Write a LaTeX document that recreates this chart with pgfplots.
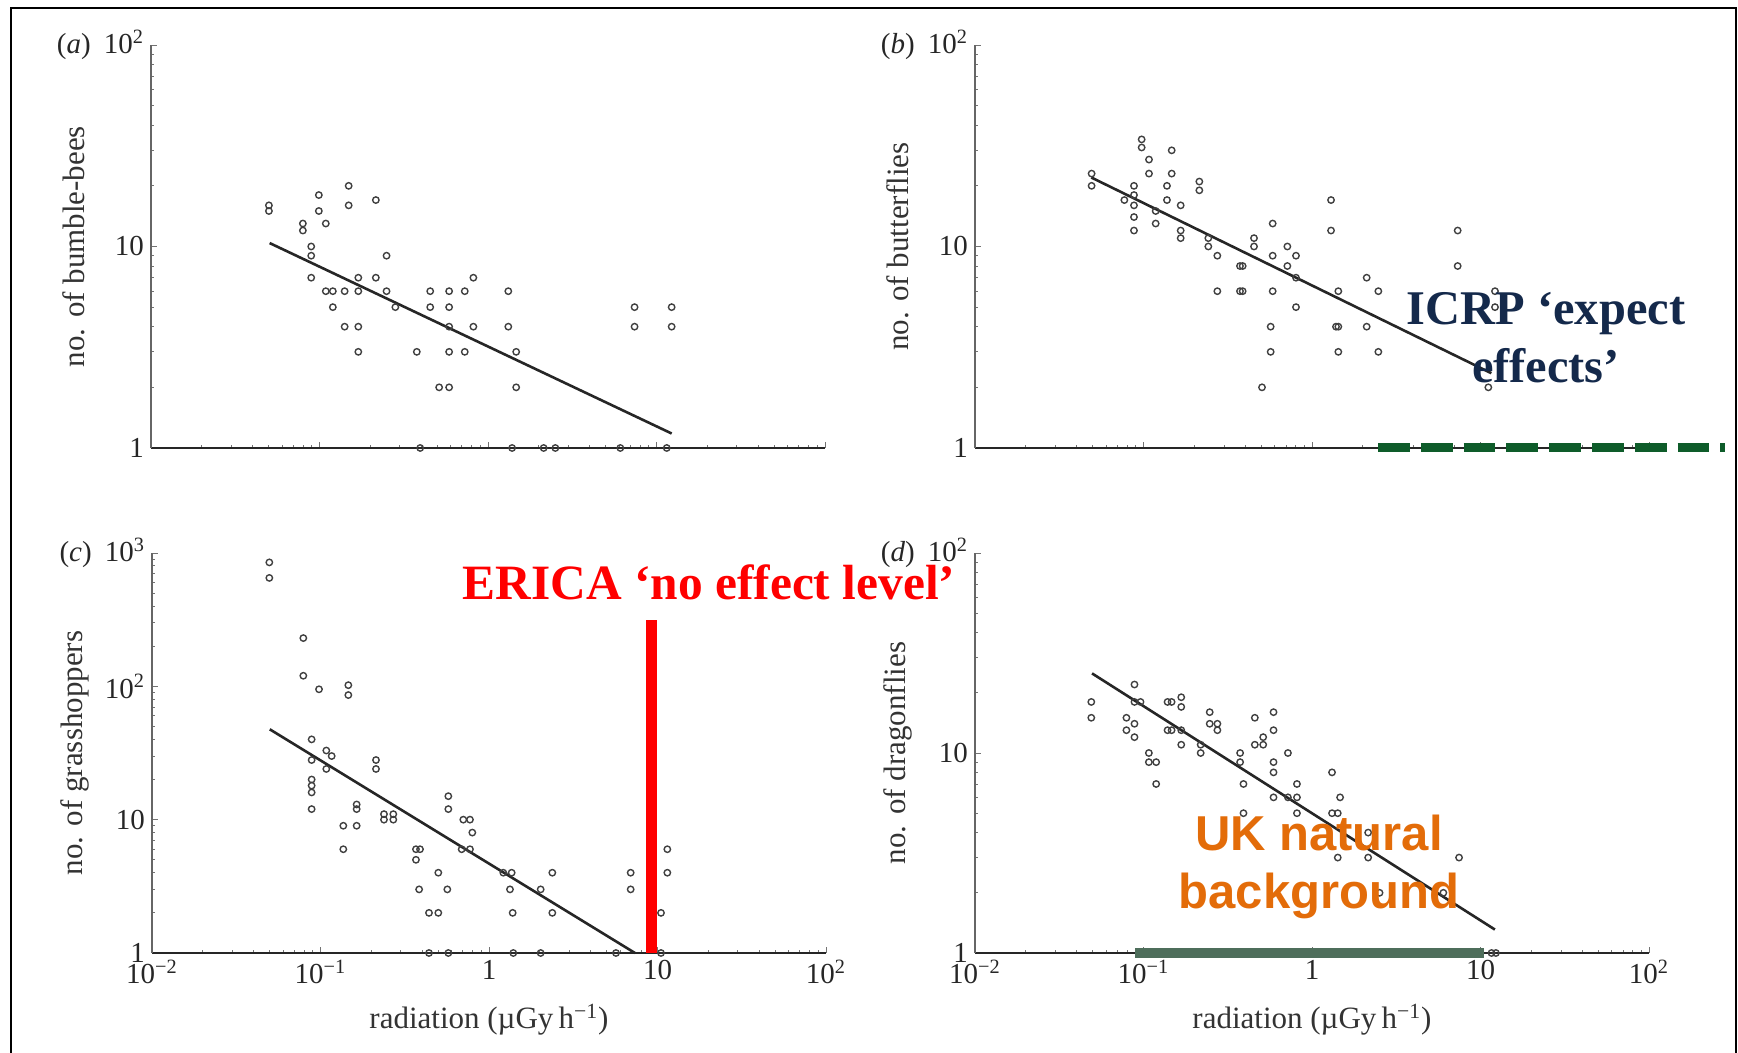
\documentclass[border=0pt]{standalone}
\usepackage{pgfplots}
\pgfplotsset{compat=1.18}
\usepackage{fontspec}
\setmainfont{Liberation Serif}
\newfontfamily\arialfont{Liberation Sans}
\definecolor{icrpgreen}{HTML}{0E5C2A}
\definecolor{icrpnavy}{HTML}{14294B}
\definecolor{ukorange}{HTML}{E36C09}
\definecolor{ukbar}{HTML}{4E6E5B}

\pgfplotsset{
  myPanelStyle/.style={
    scale only axis, width=337pt,
    xmin=0.01, xmax=100, ymin=1,
    axis lines*=left, clip=false,
    tick align=inside,
    major tick length=3pt, minor tick length=1.6pt,
    every tick/.style={black!55, line width=0.4pt},
    x axis line style={black!85, line width=1.2pt},
    y axis line style={black!60, line width=0.6pt},
    xtick={0.01,0.1,1,10,100},
    minor xtick={0.02,0.03,0.04,0.05,0.06,0.07,0.08,0.09,0.2,0.3,0.4,0.5,0.6,0.7,0.8,0.9,2,3,4,5,6,7,8,9,20,30,40,50,60,70,80,90},
    tick label style={font=\fontsize{14.5}{16}\selectfont, text=black!85},
    every axis label/.append style={font=\fontsize{15.5}{18}\selectfont, text=black!80},
    ylabel style={at={(axis description cs:-0.114,0.5)}, anchor=center},
    xlabel style={at={(axis description cs:0.5,-0.167)}, anchor=center},
    anchor=south west,
  },
  myTopStyle/.style={myPanelStyle, height=201.5pt, ymax=100, xticklabels={,,,,},
    ytick={1,10,100}, minor ytick={2,3,4,5,6,7,8,9,20,30,40,50,60,70,80,90}},
  myBotStyle/.style={myPanelStyle, height=200pt,
    xticklabels={10\textsuperscript{−2},10\textsuperscript{−1},1,10,10\textsuperscript{2}},
    xlabel={radiation (µGy\,h\textsuperscript{−1})}},
  myPts/.style={only marks, mark=o, mark size=1.6pt, mark options={draw=black!75, line width=0.7pt}},
  myFit/.style={black!85, line width=1.3pt, no marks},
}

\begin{document}
\begin{tikzpicture}
\path[use as bounding box] (0,0) rectangle (869pt,526.5pt);

% (a) bumble-bees
\begin{loglogaxis}[myTopStyle, at={(75.5pt,302.5pt)},
  yticklabels={1,10,{(\textit{a})\hspace{0.45em}10\textsuperscript{2}}},
  ylabel={no. of bumble-bees}]
\addplot[myPts] coordinates {
(0.0501,16)(0.0501,15)(0.0797,13)(0.0797,12)(0.0893,10)(0.0893,9)(0.0893,7)
(0.0991,18)(0.0991,15)(0.109,13)(0.109,6)(0.120,6)(0.120,5)(0.141,6)(0.141,4)
(0.149,20)(0.149,16)(0.170,7)(0.170,6)(0.170,4)(0.170,3)(0.216,17)(0.216,7)
(0.250,9)(0.250,6)(0.282,5)(0.378,3)(0.396,1)(0.454,6)(0.454,5)(0.513,2)
(0.588,6)(0.588,5)(0.588,4)(0.588,3)(0.588,2)(0.728,6)(0.728,3)(0.819,7)(0.819,4)
(1.32,6)(1.32,4)(1.39,1)(1.47,3)(1.47,2)(2.14,1)(2.51,1)(6.10,1)(7.41,5)(7.41,4)
(11.5,1)(12.3,5)(12.3,4)};
\addplot[myFit] coordinates {(0.0506,10.4)(12.3,1.18)};
\end{loglogaxis}

% (b) butterflies
\begin{loglogaxis}[myTopStyle, at={(487.5pt,302.5pt)},
  yticklabels={1,10,{(\textit{b})\hspace{0.45em}10\textsuperscript{2}}},
  ylabel={no. of butterflies}]
\addplot[myPts] coordinates {
(0.0492,23)(0.0492,20)(0.0770,17)(0.0878,20)(0.0878,18)(0.0878,16)(0.0878,14)(0.0878,12)
(0.0975,34)(0.0975,31)(0.1078,27)(0.1078,23)(0.1181,15)(0.1181,13)(0.1378,20)(0.1378,17)
(0.1470,30)(0.1470,23)(0.1662,16)(0.1662,12)(0.1662,11)(0.2145,21)(0.2145,19)
(0.2425,11)(0.2425,10)(0.2743,9)(0.2743,6)(0.3738,8)(0.3738,6)(0.3877,8)(0.3877,6)
(0.4527,11)(0.4527,10)(0.5050,2)(0.5684,4)(0.5684,3)(0.5843,13)(0.5843,9)(0.5843,6)
(0.7142,10)(0.7142,8)(0.8036,9)(0.8036,7)(0.8036,5)(1.297,17)(1.297,12)(1.388,4)
(1.433,6)(1.433,4)(1.433,3)(2.111,7)(2.111,4)(2.476,6)(2.476,3)(7.32,12)(7.32,8)
(11.13,2)(12.19,6)(12.19,5)};
\addplot[myFit] coordinates {(0.049,22.0)(11.6,2.35)};
\draw[icrpgreen, line width=4.5pt, dash pattern=on 15.9pt off 5.5pt] (axis cs:2.466,1) -- (axis cs:282.5,1);
\end{loglogaxis}

% (c) grasshoppers
\begin{loglogaxis}[myBotStyle, at={(76pt,50pt)}, ymax=1000,
  ytick={1,10,100,1000},
  minor ytick={2,3,4,5,6,7,8,9,20,30,40,50,60,70,80,90,200,300,400,500,600,700,800,900},
  yticklabels={1,10,10\textsuperscript{2},{(\textit{c})\hspace{0.45em}10\textsuperscript{3}}},
  ylabel={no. of grasshoppers}]
\addplot[myPts] coordinates {
(0.0497,850)(0.0497,650)(0.0791,230)(0.0791,120)(0.0886,40)(0.0886,28)(0.0886,20)
(0.0886,18)(0.0886,16)(0.0886,12)(0.0980,95)(0.1083,33)(0.1083,24)(0.1165,30)
(0.1366,9)(0.1366,6)(0.1463,102)(0.1463,86)(0.1639,13)(0.1639,12)(0.1639,9)
(0.2135,28)(0.2135,24)(0.2381,11)(0.2381,10)(0.2705,11)(0.2705,10)(0.3687,6)(0.3687,5)
(0.3896,6)(0.385,3)(0.4404,2)(0.4404,1)(0.5003,4)(0.5003,2)(0.5659,3)(0.5737,15)
(0.5737,12)(0.5737,1)(0.6885,6)(0.7040,10)(0.7711,10)(0.7711,6)(0.7964,8)(1.216,4)
(1.363,4)(1.332,3)(1.382,2)(1.394,1)(2.026,3)(2.026,1)(2.376,4)(2.376,2)(5.67,1)
(6.93,4)(6.93,3)(10.49,2)(10.49,1)(11.44,6)(11.44,4)};
\addplot[myFit] coordinates {(0.050,47.6)(7.35,1)};
\draw[red, line width=5.5pt] (axis cs:9.18,1) -- (axis cs:9.18,315);
\end{loglogaxis}

% (d) dragonflies
\begin{loglogaxis}[myBotStyle, at={(487.5pt,50pt)}, ymax=100,
  ytick={1,10,100}, minor ytick={2,3,4,5,6,7,8,9,20,30,40,50,60,70,80,90},
  yticklabels={1,10,{(\textit{d})\hspace{0.45em}10\textsuperscript{2}}},
  ylabel={no. of dragonflies}]
\addplot[myPts] coordinates {
(0.0490,18)(0.0490,15)(0.0792,15)(0.0792,13)(0.0884,22)(0.0884,18)(0.0884,14)(0.0884,12)
(0.0960,18)(0.1076,10)(0.1076,9)(0.1189,9)(0.1189,7)(0.1389,18)(0.1389,13)(0.1468,18)
(0.1468,13)(0.1675,19)(0.1675,17)(0.1675,13)(0.1675,11)(0.2184,11)(0.2184,10)
(0.2471,16)(0.2471,14)(0.2745,14)(0.2745,13)(0.3745,10)(0.3745,9)(0.3921,7)(0.3921,5)
(0.4578,15)(0.4578,11)(0.5132,12)(0.5132,11)(0.5911,16)(0.5911,13)(0.5911,9)(0.5911,8)
(0.5911,6)(0.7197,10)(0.7197,6)(0.8141,7)(0.8141,6)(0.8141,5)(1.315,8)(1.315,5)
(1.422,5)(1.422,3)(1.468,6)(2.154,4)(2.154,3)(2.517,2)(6.02,2)(7.46,3)(11.63,1)(12.34,1)};
\addplot[myFit] coordinates {(0.0495,25)(12.17,1.31)};
\draw[ukbar, line width=5pt] (axis cs:0.0896,1) -- (axis cs:10.5,1);
\end{loglogaxis}

% annotations
\node[anchor=base, inner sep=0, text=red, font=\fontsize{24.7}{28}\selectfont\bfseries] at (354.5pt,226.5pt) {ERICA ‘no effect level’};
\node[anchor=base, inner sep=0, text=icrpnavy, font=\fontsize{24.2}{28}\selectfont\bfseries] at (773pt,364pt) {ICRP ‘expect};
\node[anchor=base, inner sep=0, text=icrpnavy, font=\fontsize{24.2}{28}\selectfont\bfseries] at (773pt,335pt) {effects’};
\node[anchor=base, inner sep=0, text=ukorange, font=\arialfont\fontsize{24.5}{28}\selectfont\bfseries] at (659.5pt,101pt) {UK natural};
\node[anchor=base, inner sep=0, text=ukorange, font=\arialfont\fontsize{24.5}{28}\selectfont\bfseries] at (659.5pt,72pt) {background};

% frame
\draw[line width=1pt] (5.5pt,0) -- (5.5pt,522.5pt) -- (868pt,522.5pt) -- (868pt,0);
\end{tikzpicture}
\end{document}
